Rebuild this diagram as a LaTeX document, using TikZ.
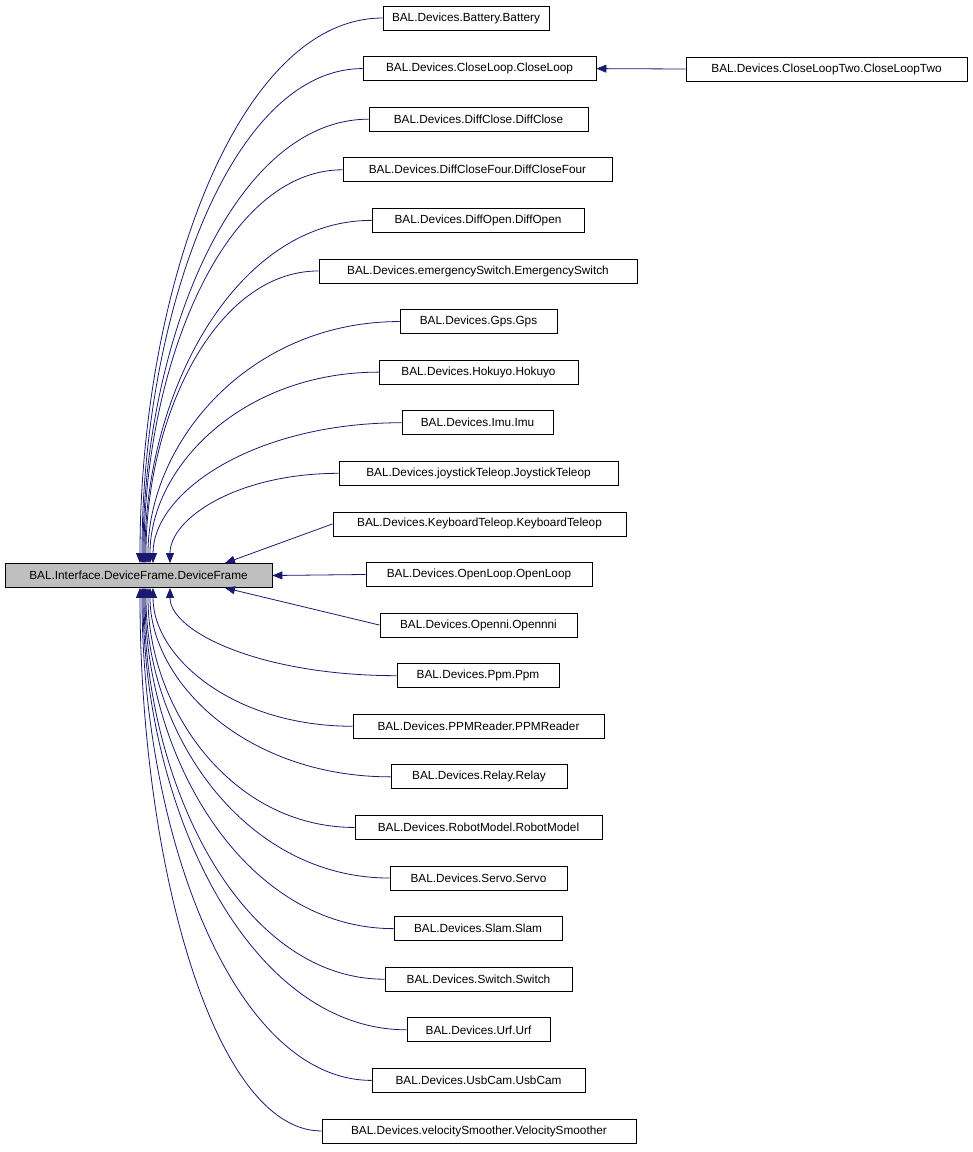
\documentclass[tikz,border=0pt]{standalone}
\usepackage{fontspec}
\setmainfont{Liberation Sans}
\usetikzlibrary{arrows.meta}
\definecolor{navyedge}{RGB}{25,25,112}
\tikzset{
 box/.style={draw=black,line width=0.8pt,minimum height=24pt,inner sep=0pt,font=\fontsize{11.8}{13}\selectfont,fill=white},
 edge/.style={draw=navyedge,line width=0.8pt,-{Triangle[length=10pt,width=8pt]},fill=none},
}
\begin{document}
\begin{tikzpicture}[x=1pt,y=-1pt]
\useasboundingbox (0,0) rectangle (973,1152);
\node[box,fill={rgb,255:red,191;green,191;blue,191},minimum width=267pt] (df) at (138.5,575.5) {BAL.Interface.DeviceFrame.DeviceFrame};
\foreach \i/\lab/\l/\r/\tx in {
1/BAL.Devices.Battery.Battery/383/549/140,
2/BAL.Devices.CloseLoop.CloseLoop/363/596/142,
3/BAL.Devices.DiffClose.DiffClose/369/588/143,
4/BAL.Devices.DiffCloseFour.DiffCloseFour/343/612/144,
5/BAL.Devices.DiffOpen.DiffOpen/372/584/145,
6/BAL.Devices.emergencySwitch.EmergencySwitch/319/637/146,
7/BAL.Devices.Gps.Gps/400/557/148,
8/BAL.Devices.Hokuyo.Hokuyo/379/578/150,
9/BAL.Devices.Imu.Imu/402/553/153,
10/BAL.Devices.joystickTeleop.JoystickTeleop/339/618/170,
11/BAL.Devices.KeyboardTeleop.KeyboardTeleop/333/626/225,
12/BAL.Devices.OpenLoop.OpenLoop/366/592/0,
13/BAL.Devices.Openni.Opennni/380/577/225,
14/BAL.Devices.Ppm.Ppm/397/559/170,
15/BAL.Devices.PPMReader.PPMReader/353/604/153,
16/BAL.Devices.Relay.Relay/391/567/150,
17/BAL.Devices.RobotModel.RobotModel/355/602/148,
18/BAL.Devices.Servo.Servo/390/567/146,
19/BAL.Devices.Slam.Slam/394/562/145,
20/BAL.Devices.Switch.Switch/385/572/144,
21/BAL.Devices.Urf.Urf/407/550/143,
22/BAL.Devices.UsbCam.UsbCam/372/585/142,
23/BAL.Devices.velocitySmoother.VelocitySmoother/322/636/140}{
 \pgfmathsetmacro\yy{18+(\i-1)*50.59}
 \pgfmathsetmacro\cx{(\l+\r)/2}
 \pgfmathsetmacro\w{\r-\l}
 \node[box,minimum width=\w pt] (n\i) at (\cx,\yy) {\lab};
 \pgfmathsetmacro\cb{\tx+0.4*(\l-\tx)}
 \ifnum\i=11
  \draw[edge] (n\i.west) -- (\tx,0 |- df.north);
 \else\ifnum\i=13
  \draw[edge] (n\i.west) -- (\tx,0 |- df.south);
 \else\ifnum\i<12
  \pgfmathsetmacro\ca{563-0.5*(563-\yy)}
  \draw[edge] (n\i.west) .. controls (\cb,\yy) and (\tx,\ca) .. (\tx,0 |- df.north);
 \else\ifnum\i>12
  \pgfmathsetmacro\ca{588+0.5*(\yy-588)}
  \draw[edge] (n\i.west) .. controls (\cb,\yy) and (\tx,\ca) .. (\tx,0 |- df.south);
 \else
  \draw[edge] (n\i.west) -- (df.east);
 \fi\fi\fi\fi
}
\node[box,minimum width=281pt] (clt) at (826.5,69) {BAL.Devices.CloseLoopTwo.CloseLoopTwo};
\draw[edge] (clt.west) -- (n2.east);
\end{tikzpicture}
\end{document}
